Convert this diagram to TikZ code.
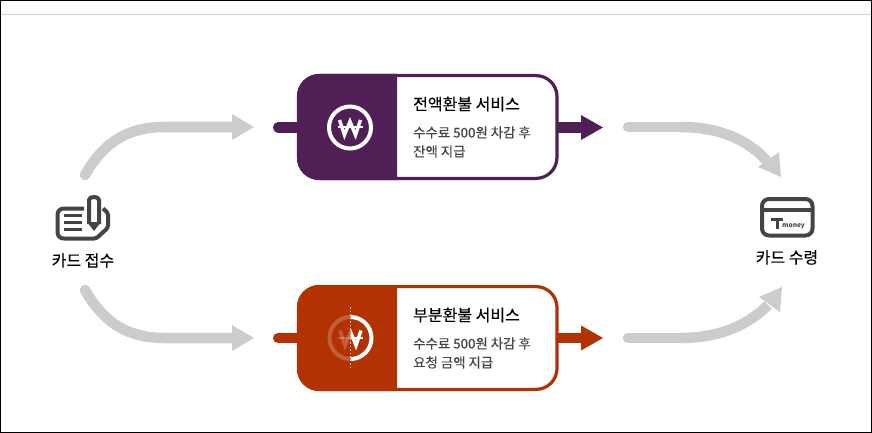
\documentclass[tikz,border=0pt]{standalone}
\usepackage{fontspec}
\setmainfont{Noto Sans CJK KR}
\newfontfamily\heavyf[FakeBold=0.35]{Noto Sans CJK KR}
\newfontfamily\midf[FakeBold=0.15]{Noto Sans CJK KR}
\usetikzlibrary{calc}
\definecolor{plum}{HTML}{4F1F56}
\definecolor{rust}{HTML}{B23204}
\definecolor{flow}{HTML}{CCCCCC}
\definecolor{ink}{HTML}{444444}
\tikzset{
  x=1pt,y=-1pt,
  flowline/.style={draw=flow,line width=10.5pt,line cap=round},
  headf/.style={fill=flow},
  stub/.style={line width=10pt,line cap=round},
  titletext/.style={anchor=base west,inner sep=0pt,font=\heavyf\fontsize{16}{16}\selectfont,text=black},
  bodytext/.style={anchor=base west,inner sep=0pt,font=\midf\fontsize{13.4}{13.5}\selectfont,text=ink},
  caption/.style={inner sep=0pt,font=\midf\fontsize{16}{16}\selectfont,text=black},
  ico/.style={draw=ink,line width=4pt,line join=round},
  wonc/.style={draw=white,line width=4pt},
  wonw/.style={draw=white,line width=3.4pt,line join=miter},
  wonb/.style={draw=white,line width=2pt},
}
\newcommand{\wonglyph}{%
  \draw[wonw] (-10.5,-7.5) -- (-5.5,7.5) -- (0,-6) -- (5.5,7.5) -- (10.5,-7.5);
  \draw[wonb] (-12.5,-0.3) -- (12.5,-0.3);
}
\begin{document}
\begin{tikzpicture}
\useasboundingbox (0,0) rectangle (872,433);
\fill[white] (0,0) rectangle (872,433);
\draw[black,line width=1pt] (0.5,0.5) rectangle (871.5,432.5);
\draw[flow!90!white,line width=1pt] (1,14.5) -- (871,14.5);

% coordinates
\coordinate (a1s) at (85,175); \coordinate (a1e) at (233,127);
\coordinate (a2s) at (85,290); \coordinate (a2e) at (233,338);
\coordinate (a3s) at (628,127); \coordinate (a3e) at (767,161);
\coordinate (a4s) at (628,338); \coordinate (a4e) at (768,305);

% grey flows
\draw[flowline] (a1s) .. controls (105,140) and (130,127) .. (165,127) -- (a1e);
\fill[headf] (232,114) -- (254,127) -- (232,140) -- cycle;
\draw[flowline] (a2s) .. controls (105,325) and (130,338) .. (165,338) -- (a2e);
\fill[headf] (232,325) -- (254,338) -- (232,351) -- cycle;
\draw[flowline,line cap=butt] (680,127) .. controls (715,127) and (745,137) .. (a3e);
\draw[flowline] (a3s) -- (680,127);
\fill[headf] (781,177) -- (758,167) -- (779,152) -- cycle;
\draw[flowline,line cap=butt] (680,338) .. controls (715,338) and (745,328) .. (a4e);
\draw[flowline] (a4s) -- (680,338);
\fill[headf] (782,287) -- (759,297) -- (780,312) -- cycle;

% top box
\coordinate (s1) at (278,127.5); \coordinate (t1) at (583,127.5);
\draw[stub,plum] (s1) -- (300,127.5);
\draw[plum,line width=10pt] (556,127.5) -- (t1);
\fill[plum] (581,115) -- (603,127.5) -- (581,140) -- cycle;
\draw[plum,line width=3.2pt,fill=white,rounded corners=21pt] (298.5,75.6) rectangle (557,178.4);
\begin{scope}
\clip (297,74) rectangle (397,180);
\fill[plum,rounded corners=22pt] (297,74) rectangle (440,180);
\end{scope}
\begin{scope}[shift={(350,127.5)}]
\draw[wonc] (0,0) circle (21);
\wonglyph
\end{scope}
\node[titletext] (t1a) at (413,110) {전액환불 서비스};
\node[bodytext] (t1b) at (413,137.5) {수수료 500원 차감 후};
\node[bodytext] (t1c) at (413,156.5) {잔액 지급};

% bottom box
\coordinate (s2) at (278,338); \coordinate (t2) at (583,338);
\draw[stub,rust] (s2) -- (300,338);
\draw[rust,line width=10pt] (556,338) -- (t2);
\fill[rust] (581,325.5) -- (603,338) -- (581,350.5) -- cycle;
\draw[rust,line width=3.2pt,fill=white,rounded corners=21pt] (298.5,286.6) rectangle (557,389.4);
\begin{scope}
\clip (297,285) rectangle (397,391);
\fill[rust,rounded corners=22pt] (297,285) rectangle (440,391);
\end{scope}
\begin{scope}[shift={(350.5,338)}]
\begin{scope}[opacity=0.22]
\clip (-30,-30) rectangle (0,30);
\draw[wonc] (0,0) circle (21);
\wonglyph
\end{scope}
\begin{scope}
\clip (0,-30) rectangle (30,30);
\draw[wonc] (0,0) circle (21);
\wonglyph
\end{scope}
\draw[white!70!rust,line width=1.5pt,dash pattern=on 1.5pt off 2pt] (0,-31) -- (0,31);
\end{scope}
\node[titletext] (t2a) at (413,321) {부분환불 서비스};
\node[bodytext] (t2b) at (413,348.5) {수수료 500원 차감 후};
\node[bodytext] (t2c) at (413,367.5) {요청 금액 지급};

% left icon
\draw[ico] (84,208.5) -- (64,208.5) .. controls (60,208.5) and (57.5,211) .. (57.5,215) -- (57.5,232) .. controls (57.5,236) and (60,238.5) .. (64,238.5) -- (94,238.5) .. controls (97,238.5) and (98,237) .. (100,235) -- (106,229.5) .. controls (107.5,228) and (108,227) .. (108,225) -- (108,215) .. controls (108,213) and (107,212) .. (103,208.5);
\draw[ink,line width=3pt] (64,215) -- (82,215) (64,222) -- (82,222) (64,229) -- (82,229);
\draw[ico] (89,224) -- (89,200) .. controls (89,196) and (99,196) .. (99,200) -- (99,224);
\fill[ink] (87,222) -- (101,222) -- (94,231) -- cycle;
\node[caption] (lab1) at (83,260.5) {카드 접수};

% right icon
\draw[ico,rounded corners=7pt] (762,199) rectangle (812.5,235.5);
\draw[ink,line width=4.5pt] (762,210) -- (812.5,210);
\draw[ink,line width=3pt] (771,219.5) -- (783,219.5) (777,219.5) -- (777,228.5);
\node[inner sep=0pt,anchor=base west,text=ink,font=\fontsize{6.5}{7}\selectfont\bfseries] (mon) at (782,227.5) {money};
\node[caption] (lab2) at (787,257.5) {카드 수령};
\end{tikzpicture}
\end{document}
